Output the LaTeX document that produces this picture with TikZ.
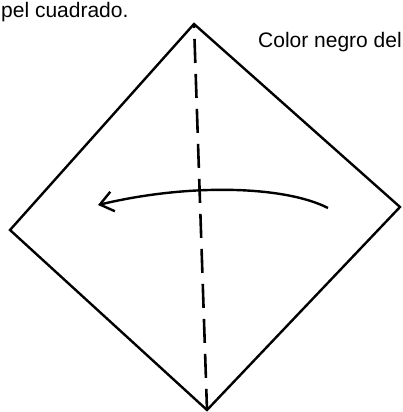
\documentclass[tikz,border=0pt]{standalone}
\usepackage{fontspec}
\setmainfont{Liberation Sans}
\usetikzlibrary{arrows.meta}

\begin{document}
\begin{tikzpicture}[
		x=1pt, y=-1pt,
		fold/.style={
			draw, line width=2.4pt, line join=miter
		},
		crease/.style={
			draw, line width=2.6pt, dash pattern=on 24pt off 11pt, dash phase=20pt
		},
		turn/.style={
			draw, line width=2.4pt, -{Straight Barb[length=13pt, width=20pt, line width=2.4pt]}
		},
		caption/.style={
			inner sep=0pt, anchor=base west, font=\fontsize{21}{24}\selectfont
		}
		]
		\useasboundingbox (0,0) rectangle (402,412);
		
		% esquinas del papel
		\coordinate (top) at (194,24);
		\coordinate (right) at (400,207);
		\coordinate (bottom) at (207,410);
		\coordinate (left) at (10,230);
		
		\path[fold] (top) -- (right) -- (bottom) -- (left) -- cycle;
		\path[crease] (top) -- (bottom);  % linea de doblez
		
		% flecha de giro
		\coordinate (from) at (328,208);
		\coordinate (to) at (98,205);
		\path[turn] (from) .. controls (285,186) and (190,183) .. (to);
		
		\node[caption] (paper) at (1,18) {pel cuadrado.};
		\node[caption] (colour) at (258,48) {Color negro del};
	\end{tikzpicture}
\end{document}
